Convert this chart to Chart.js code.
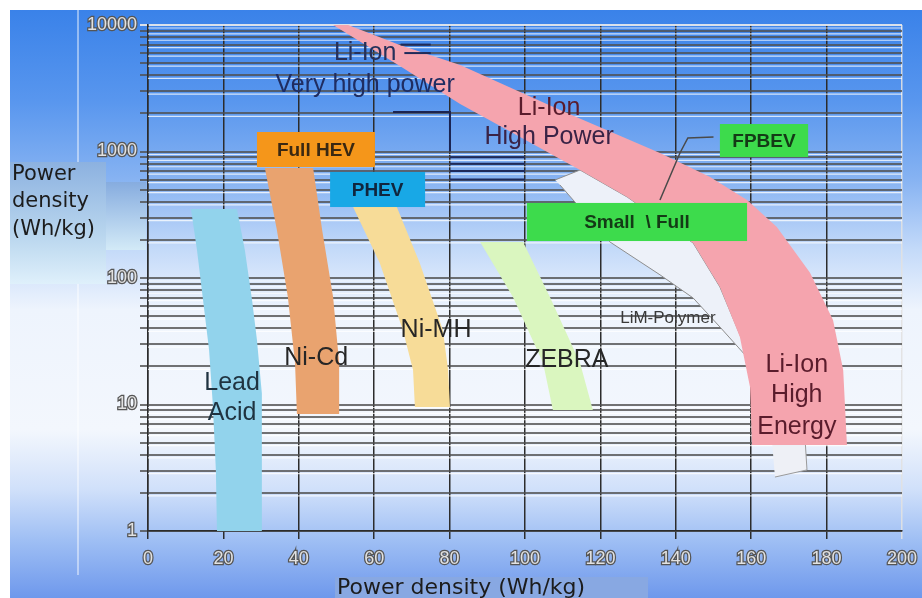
<!DOCTYPE html>
<html>
<head>
<meta charset="utf-8">
<script src="https://cdn.jsdelivr.net/npm/chart.js@4.4.0/dist/chart.umd.min.js"></script>
<style>
  html, body { margin: 0; padding: 0; background: #ffffff; }
</style>
</head>
<body>
<canvas id="myChart" width="922" height="598"></canvas>
<script>
// outlines of the technology bands: x = energy density, y = power density (log)
const leadAcidX = [11.4, 13.0, 14.6, 16.2, 17.2, 18.0, 18.3, 30.2, 30.2, 30.2, 28.9, 27.6, 25.7, 23.6];
const leadAcidY = [351, 166, 67, 27, 9.9, 3.04, 1, 1, 3.04, 12.3, 32.3, 67, 166, 351];

const niCdX = [31.0, 34.2, 37.1, 39.0, 39.5, 50.9, 50.7, 49.1, 46.2, 43.8];
const niCdY = [741, 239, 70.8, 21.3, 8.41, 8.41, 21.3, 70.8, 239, 741];

const niMhX = [54.4, 61.5, 67.6, 70.3, 70.8, 80.1, 79.6, 78.2, 72.1, 66.0];
const niMhY = [364, 131, 38.8, 18.7, 9.55, 9.55, 18.7, 38.8, 131, 364];

const zebraX = [88.1, 96.8, 104.8, 107.4, 118.0, 114.6, 106.6, 99.5];
const zebraY = [193, 70.8, 21.3, 9.05, 9.05, 21.3, 70.8, 193];

const liIonX = [49.1, 53.1, 66.8, 82.8, 109.3, 135.8, 149.1, 158.9, 166.8, 175.6, 181.7, 184.4, 185.4,
                160.2, 159.7, 157.0, 151.7, 144.6, 127.1, 114.6, 82.8, 66.8, 49.1];
const liIonY = [10000, 10000, 6950, 4830, 2130, 973, 628, 414, 253, 110, 46.6, 18.7, 4.79,
                4.79, 13.7, 34.2, 84.9, 189, 437, 714, 2373, 4743, 10000];

const limPolyX = [108.0, 114.6, 127.1, 144.6, 151.7, 157.6, 158.4, 151.7, 144.6, 135.8, 122.5, 109.3];
const limPolyY = [596, 714, 437, 189, 84.9, 32.3, 24.6, 41, 69.5, 106, 193, 543];

const limTailX = [165.5, 174.3, 174.8, 166.3];
const limTailY = [5.24, 5.24, 3.04, 2.67];

// leader lines
const fpbevLineX = [150.0, 143.2, 141.1, 135.8];
const fpbevLineY = [1303, 1279, 973, 414];
const bracketX = [65.0, 80.1, 80.1];
const bracketY = [2052, 2052, 1000];
const darkLineY = [900, 800, 700, 600, 7000, 6000];
const darkLineX0 = [80, 80, 80, 80, 67, 68];
const darkLineX1 = [100, 100, 100, 100, 75, 75];

// vehicle boxes
const vehicleNames = ['Full HEV', 'PHEV', 'FPBEV', 'Small  \\ Full'];
const vehicleX0 = [28.9, 48.3, 151.7, 100.5];
const vehicleX1 = [60.2, 73.5, 175.1, 158.9];
const vehicleYTop = [1426, 689, 1649, 392];
const vehicleYBottom = [754, 364, 905, 196];

// band names
const bandText = ['Li-Ion', 'Very high power', 'Li-Ion', 'High Power', 'Li-Ion', 'High', 'Energy',
                  'Lead', 'Acid', 'Ni-Cd', 'Ni-MH', 'ZEBRA', 'LiM-Polymer'];
const bandTextX = [57.6, 57.6, 106.4, 106.4, 172.1, 172.1, 172.1, 22.3, 22.3, 44.6, 76.4, 111.1, 137.9];
const bandTextY = [6010, 3357, 2208, 1303, 20.5, 11.9, 6.64, 14.8, 8.57, 23.3, 38.8, 22.5, 48.3];

// axes
const xTicks = [0, 20, 40, 60, 80, 100, 120, 140, 160, 180, 200];
const yDecades = [1, 10, 100, 1000, 10000];
const yMinor = [2, 3, 4, 5, 6, 7, 8, 9];
const xTitle = 'Power density (Wh/kg)';
const yTitle = ['Power', 'density', '(Wh/kg)'];

const yTickValues = [];
yDecades.forEach(d => {
    yTickValues.push(d);
    if (d < 10000) yMinor.forEach(m => yTickValues.push(d * m));
});

const pts = (xs, ys) => xs.map((x, i) => ({ x: x, y: ys[i] }));

function band(label, xs, ys, color, order, border) {
    return {
        label: label,
        data: pts(xs, ys),
        showLine: true,
        fill: 'shape',
        backgroundColor: color,
        borderColor: border || color,
        borderWidth: border ? 1 : 0,
        pointRadius: 0,
        tension: 0,
        order: order
    };
}

function stroke(label, xs, ys, color, width) {
    return {
        label: label,
        data: pts(xs, ys),
        showLine: true,
        fill: false,
        borderColor: color,
        borderWidth: width,
        pointRadius: 0,
        tension: 0,
        order: 0
    };
}

const datasets = [
    band('Li-Ion', liIonX, liIonY, '#f5a4ae', 1),
    band('LiM-Polymer', limPolyX, limPolyY, '#edf1f9', 2, '#8e8e8e'),
    band('LiM-Polymer tail', limTailX, limTailY, '#eef0f6', 2, '#9a9a9a'),
    band('Lead Acid', leadAcidX, leadAcidY, '#92d3ec', 3),
    band('Ni-Cd', niCdX, niCdY, '#e9a36f', 3),
    band('Ni-MH', niMhX, niMhY, '#f7dc98', 3),
    band('ZEBRA', zebraX, zebraY, '#daf6bf', 3),
    stroke('FPBEV leader', fpbevLineX, fpbevLineY, '#4a4a4a', 1.5),
    stroke('bracket', bracketX, bracketY, '#1b2452', 2)
];
darkLineY.forEach((y, i) => {
    datasets.push(stroke('dark ' + i, [darkLineX0[i], darkLineX1[i]], [y, y], '#1e2a5a', 2));
});

// background, axis titles
const backdrop = {
    id: 'backdrop',
    beforeDraw(chart) {
        const c = chart.ctx;
        c.save();
        c.fillStyle = '#ffffff';
        c.fillRect(0, 0, chart.width, chart.height);
        const g = c.createLinearGradient(0, 10, 0, chart.height);
        g.addColorStop(0, '#3a82e9');
        g.addColorStop(0.153, '#5896ee');
        g.addColorStop(0.289, '#87b3f2');
        g.addColorStop(0.408, '#c4daf9');
        g.addColorStop(0.51, '#eef4fd');
        g.addColorStop(0.714, '#f3f7fd');
        g.addColorStop(0.816, '#d0e0fa');
        g.addColorStop(0.901, '#9fbff4');
        g.addColorStop(1, '#6e98ec');
        c.fillStyle = g;
        c.fillRect(10, 10, chart.width - 10, chart.height - 10);

        c.strokeStyle = 'rgba(255,255,255,0.6)';
        c.lineWidth = 1.5;
        c.beginPath();
        c.moveTo(78, 10);
        c.lineTo(78, 575);
        c.stroke();

        // y title box
        let bg = c.createLinearGradient(0, 162, 0, 284);
        bg.addColorStop(0, '#8cb1e0');
        bg.addColorStop(0.6, '#b9d6ee');
        bg.addColorStop(1, '#dff0fb');
        c.fillStyle = bg;
        c.fillRect(10, 162, 96, 122);
        bg = c.createLinearGradient(0, 182, 0, 250);
        bg.addColorStop(0, '#86acdf');
        bg.addColorStop(1, '#d3eaf7');
        c.fillStyle = bg;
        c.fillRect(106, 182, 40, 68);

        c.fillStyle = '#1c1c1c';
        c.font = '21px "DejaVu Sans"';
        c.textAlign = 'left';
        c.textBaseline = 'alphabetic';
        c.fillText(yTitle[0], 12, 180);
        c.fillText(yTitle[1], 12, 207);
        c.fillText(yTitle[2], 12, 235);

        // x title
        c.fillStyle = '#88a8e2';
        c.fillRect(335, 577, 313, 21);
        c.fillStyle = '#1c1c1c';
        c.font = '22px "DejaVu Sans"';
        c.fillText(xTitle, 337, 594);
        c.restore();
    },
    beforeDatasetsDraw(chart) {
        // light line under every horizontal grid line
        const c = chart.ctx;
        const a = chart.chartArea;
        const y = chart.scales.y;
        c.save();
        c.strokeStyle = 'rgba(255,255,255,0.75)';
        c.lineWidth = 1.2;
        y.ticks.forEach(t => {
            const py = y.getPixelForValue(t.value) + 3;
            if (py > a.bottom) return;
            c.beginPath();
            c.moveTo(a.left, py);
            c.lineTo(a.right, py);
            c.stroke();
        });
        c.restore();
    }
};

// vehicle boxes and band names
const notes = {
    id: 'notes',
    afterDatasetsDraw(chart) {
        const c = chart.ctx;
        const xs = chart.scales.x;
        const ys = chart.scales.y;
        const boxColors = ['#f5961a', '#18a8e6', '#3ddb4c', '#3ddb4c'];
        const boxText = ['#3a2812', '#10263e', '#143a16', '#143a16'];
        c.save();
        vehicleNames.forEach((name, i) => {
            const x0 = xs.getPixelForValue(vehicleX0[i]);
            const x1 = xs.getPixelForValue(vehicleX1[i]);
            const y0 = ys.getPixelForValue(vehicleYTop[i]);
            const y1 = ys.getPixelForValue(vehicleYBottom[i]);
            c.fillStyle = boxColors[i];
            c.fillRect(x0, y0, x1 - x0, y1 - y0);
            c.fillStyle = boxText[i];
            c.font = 'bold 19px "Liberation Sans"';
            c.textAlign = 'center';
            c.textBaseline = 'middle';
            c.fillText(name, (x0 + x1) / 2, (y0 + y1) / 2 + 1);
        });

        const textColors = ['#26305a', '#1f2d62', '#5a1c2c', '#3a2346', '#5a1c2c', '#5a1c2c', '#5a1c2c',
                            '#1f3340', '#1f3340', '#262626', '#262626', '#262626', '#3a3a3a'];
        bandText.forEach((t, i) => {
            c.font = (t === 'LiM-Polymer') ? '17px "Liberation Sans"' : '25px "Liberation Sans"';
            c.fillStyle = textColors[i];
            c.textAlign = 'center';
            c.textBaseline = 'middle';
            c.fillText(t, xs.getPixelForValue(bandTextX[i]), ys.getPixelForValue(bandTextY[i]));
        });
        c.restore();
    }
};

const tickFont = { family: 'Liberation Sans', size: 18 };

const chart = new Chart(document.getElementById('myChart'), {
    type: 'scatter',
    data: { datasets: datasets },
    options: {
        responsive: false,
        animation: false,
        devicePixelRatio: 1,
        layout: { padding: { left: 0, top: 25, right: 20, bottom: 0 } },
        plugins: {
            legend: { display: false },
            tooltip: { enabled: false }
        },
        scales: {
            x: {
                type: 'linear',
                min: 0,
                max: 200,
                afterBuildTicks: s => { s.ticks = xTicks.map(v => ({ value: v })); },
                afterFit: s => {
                    s.height = 67;
                    s.paddingLeft = 0;
                    s.paddingRight = 0;
                },
                ticks: {
                    color: '#e2e2e2',
                    textStrokeColor: '#555555',
                    textStrokeWidth: 2.5,
                    font: tickFont,
                    padding: 9,
                    maxRotation: 0
                },
                grid: {
                    color: c => (c.tick && c.tick.value === 200) ? 'rgba(225,225,225,0.9)' : '#2c2c2c',
                    lineWidth: 1.5,
                    tickLength: 8
                },
                border: { color: '#2c2c2c', width: 1.5 }
            },
            y: {
                type: 'logarithmic',
                min: 1,
                max: 10000,
                afterBuildTicks: s => { s.ticks = yTickValues.map(v => ({ value: v })); },
                afterFit: s => {
                    s.width = 148;
                    s.paddingTop = 0;
                    s.paddingBottom = 0;
                },
                ticks: {
                    autoSkip: false,
                    callback: v => yDecades.includes(v) ? String(v) : '',
                    color: '#e2e2e2',
                    textStrokeColor: '#555555',
                    textStrokeWidth: 2.5,
                    font: tickFont,
                    padding: 3
                },
                grid: {
                    color: c => (c.tick && c.tick.value === 10000) ? 'rgba(235,235,235,0.9)' : 'rgba(80,80,80,0.8)',
                    lineWidth: 2,
                    tickLength: 8
                },
                border: { color: '#2c2c2c', width: 1.5 }
            }
        }
    },
    plugins: [backdrop, notes]
});
</script>
</body>
</html>
